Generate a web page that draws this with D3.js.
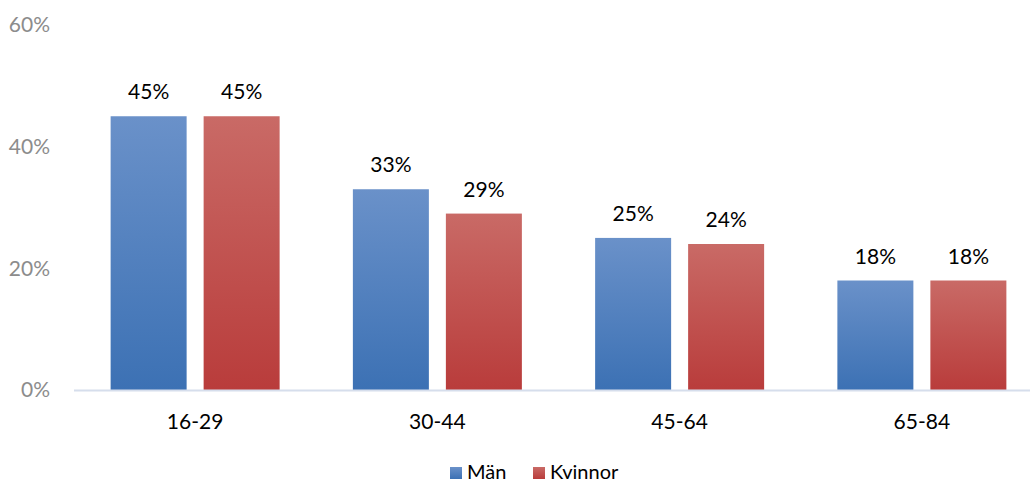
<!DOCTYPE html>
<html>
<head>
<meta charset="utf-8">
<script src="https://cdn.jsdelivr.net/npm/d3@7"></script>
<style>
  body { margin: 0; background: #fff; }
  svg { display: block; font-family: Lato, "Open Sans", sans-serif; }
</style>
</head>
<body>
<svg id="chart" width="1030" height="484"></svg>
<script>
const categories = ["16-29", "30-44", "45-64", "65-84"];
const seriesNames = ["Män", "Kvinnor"];
const man = [45, 33, 25, 18];
const kvinnor = [45, 29, 24, 18];
const yTicks = [0, 20, 40, 60];

const svg = d3.select("#chart");
const margin = { left: 74, right: -13, top: 25, bottom: 94 };
const W = 1030, H = 484;

const x = d3.scaleBand().domain(categories).range([margin.left, W - margin.right]).paddingInner(0).paddingOuter(0);
const y = d3.scaleLinear().domain([0, 60]).range([H - margin.bottom, margin.top]);

const defs = svg.append("defs");
const grads = [
  { id: "gBlue", top: "#6a91c9", bottom: "#3c71b4" },
  { id: "gRed", top: "#c96a66", bottom: "#b93c3b" }
];
grads.forEach(g => {
  const lg = defs.append("linearGradient").attr("id", g.id).attr("x1", 0).attr("y1", 0).attr("x2", 0).attr("y2", 1);
  lg.append("stop").attr("offset", "0%").attr("stop-color", g.top);
  lg.append("stop").attr("offset", "100%").attr("stop-color", g.bottom);
});

// y-axis tick labels
svg.append("g").selectAll("text").data(yTicks).join("text")
  .attr("x", 50).attr("y", d => y(d)).attr("dy", "0.35em")
  .attr("text-anchor", "end").attr("fill", "#8c8c8c").attr("font-size", 21)
  .text(d => d + "%");

const inner = 169, barW = 76;
const rows = [man, kvinnor];
const fills = ["url(#gBlue)", "url(#gRed)"];

seriesNames.forEach((s, si) => {
  const data = categories.map((c, i) => ({ c, v: rows[si][i] }));
  const off = (x.bandwidth() - inner) / 2 + (si === 0 ? 0 : inner - barW);
  svg.append("g").selectAll("rect").data(data).join("rect")
    .attr("x", d => x(d.c) + off).attr("width", barW)
    .attr("y", d => y(d.v)).attr("height", d => y(0) - y(d.v))
    .attr("fill", fills[si]);
  svg.append("g").selectAll("text").data(data).join("text")
    .attr("x", d => x(d.c) + off + barW / 2).attr("y", d => y(d.v) - 17)
    .attr("text-anchor", "middle").attr("font-size", 21).attr("fill", "#000")
    .text(d => d.v + "%");
});

// baseline
svg.append("line").attr("x1", margin.left).attr("x2", W).attr("y1", y(0) + 0.5).attr("y2", y(0) + 0.5)
  .attr("stroke", "#d6deec").attr("stroke-width", 2);

// category labels
svg.append("g").selectAll("text").data(categories).join("text")
  .attr("x", d => x(d) + x.bandwidth() / 2).attr("y", 429)
  .attr("text-anchor", "middle").attr("font-size", 21).attr("fill", "#000")
  .text(d => d);

// legend
const legend = [
  { name: "Män", x: 450, fill: "url(#gBlue)" },
  { name: "Kvinnor", x: 533, fill: "url(#gRed)" }
];
const lg = svg.append("g");
legend.forEach(l => {
  lg.append("rect").attr("x", l.x).attr("y", 467).attr("width", 12).attr("height", 12).attr("fill", l.fill);
  lg.append("text").attr("x", l.x + 17).attr("y", 479)
    .attr("font-size", 20).attr("fill", "#000").text(l.name);
});
</script>
</body>
</html>
